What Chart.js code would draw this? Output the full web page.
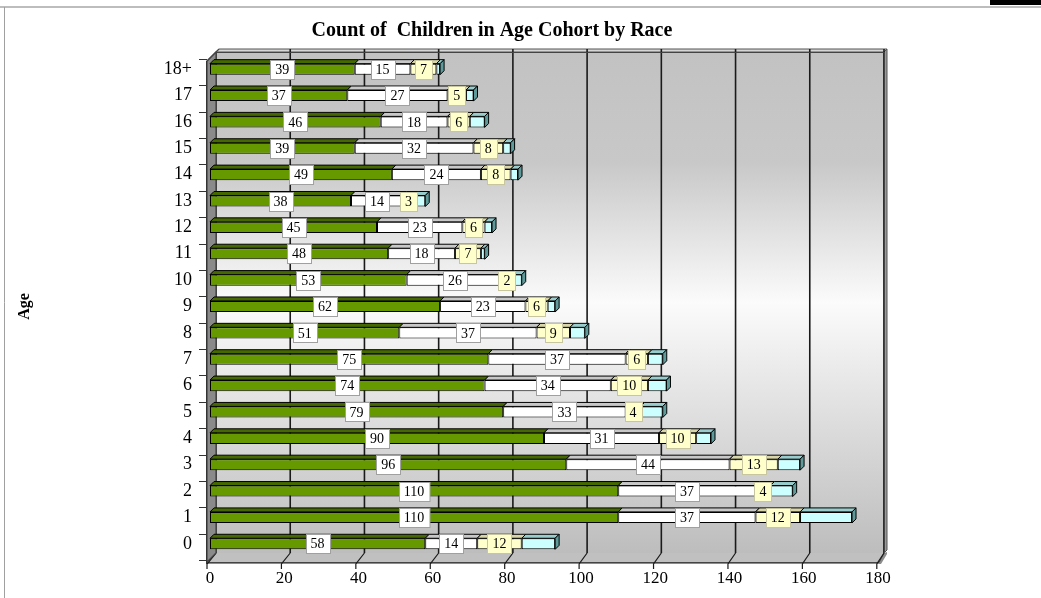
<!DOCTYPE html>
<html>
<head>
<meta charset="utf-8">
<script src="https://cdn.jsdelivr.net/npm/chart.js@4.4.1/dist/chart.umd.min.js"></script>
<style>
html,body{margin:0;padding:0;background:#fff;overflow:hidden}
#c{display:block}
</style>
</head>
<body>
<canvas id="c" width="1041" height="598"></canvas>
<script>
const ages = ['18+','17','16','15','14','13','12','11','10','9','8','7','6','5','4','3','2','1','0'];
const series1 = [39,37,46,39,49,38,45,48,53,62,51,75,74,79,90,96,110,110,58];
const series2 = [15,27,18,32,24,14,23,18,26,23,37,37,34,33,31,44,37,37,14];
const series3 = [7,5,6,8,8,3,6,7,2,6,9,6,10,4,10,13,4,12,12];
const series4 = [1,2,4,2,2,3,2,1,3,2,4,4,5,6,4,6,6,14,9];
const xTicks = [0,20,40,60,80,100,120,140,160,180];

const FONT = '"Liberation Serif", "DejaVu Serif", serif';
const FRONT = ['#669900', '#ffffff', '#ffffcc', '#ccffff'];
const TOP   = ['#456800', '#c8c8c8', '#d8d6a8', '#99cccc'];
const SIDE  = ['#3a5800', '#a8a8a8', '#b8b68a', '#5f9a9a'];
const LABEL_BG = ['#ffffff', '#ffffff', '#ffffcc', null];
const LABEL_BORDER = ['#a0a0a0', '#a0a0a0', '#c8c6a0', null];
const DX = 4, DY = 4;

const decor = {
  id: 'decor',
  beforeDraw(chart) {
    const ctx = chart.ctx, a = chart.chartArea, xs = chart.scales.x;
    ctx.save();
    ctx.fillStyle = '#fff';
    ctx.fillRect(0, 0, chart.width, chart.height);
    // frame
    ctx.strokeStyle = '#bdbdbd'; ctx.lineWidth = 2;
    ctx.beginPath(); ctx.moveTo(0, 7); ctx.lineTo(chart.width, 7); ctx.stroke();
    ctx.strokeStyle = '#a0a0a0'; ctx.lineWidth = 1;
    ctx.beginPath(); ctx.moveTo(4.5, 7); ctx.lineTo(4.5, chart.height); ctx.stroke();
    ctx.fillStyle = '#000'; ctx.fillRect(990, 0, 51, 5);

    const bx0 = a.left + 6, by0 = a.top - 4, by1 = a.bottom - 4;
    const bx1 = xs.getPixelForValue(180) + 6;
    const fx0 = a.left - 3, fy0 = a.top + 5, fy1 = a.bottom + 5;
    // back wall
    const g = ctx.createLinearGradient(0, by0, 0, by1);
    g.addColorStop(0, '#c2c2c2');
    g.addColorStop(0.22, '#c8c8c8');
    g.addColorStop(0.5, '#fbfbfb');
    g.addColorStop(0.78, '#d8d8d8');
    g.addColorStop(1, '#bdbdbd');
    ctx.fillStyle = g;
    ctx.fillRect(bx0, by0, bx1 - bx0, by1 - by0);
    // top thickness of wall
    ctx.fillStyle = '#d6d6d6';
    ctx.beginPath();
    ctx.moveTo(bx0, by0); ctx.lineTo(bx0 + 3, by0 - 3); ctx.lineTo(bx1 + 3, by0 - 3); ctx.lineTo(bx1, by0);
    ctx.closePath(); ctx.fill();
    ctx.strokeStyle = '#555'; ctx.lineWidth = 1; ctx.stroke();
    ctx.fillStyle = '#9a9a9a';
    ctx.beginPath();
    ctx.moveTo(bx1, by0); ctx.lineTo(bx1 + 3, by0 - 3); ctx.lineTo(bx1 + 3, by1 - 3); ctx.lineTo(bx1, by1);
    ctx.closePath(); ctx.fill(); ctx.stroke();
    // gridlines on back wall
    ctx.strokeStyle = '#1a1a1a'; ctx.lineWidth = 1.6;
    xTicks.forEach(v => {
      if (v === 0) return;
      const px = xs.getPixelForValue(v) + 6;
      ctx.beginPath(); ctx.moveTo(px, by0 - 3); ctx.lineTo(px, by1); ctx.stroke();
    });
    ctx.strokeStyle = '#444'; ctx.lineWidth = 1;
    ctx.strokeRect(bx0 + 0.5, by0 + 0.5, bx1 - bx0, by1 - by0);
    // floor
    const fx1 = xs.getPixelForValue(180) + 1;
    ctx.fillStyle = '#c0c0c0';
    ctx.beginPath();
    ctx.moveTo(bx0, by1); ctx.lineTo(bx1, by1); ctx.lineTo(fx1, fy1); ctx.lineTo(fx0, fy1);
    ctx.closePath(); ctx.fill();
    ctx.fillStyle = '#8c8c8c';
    ctx.beginPath();
    ctx.moveTo(fx0, fy1); ctx.lineTo(fx1, fy1); ctx.lineTo(bx1, by1); ctx.lineTo(bx1 + 3, by1 - 3 + 2);
    ctx.lineTo(bx1 + 3, by1 + 1); ctx.lineTo(fx1 + 2, fy1 + 2); ctx.lineTo(fx0, fy1 + 2);
    ctx.closePath(); ctx.fill();
    ctx.strokeStyle = '#444';
    ctx.beginPath(); ctx.moveTo(fx0, fy1 + 0.5); ctx.lineTo(fx1, fy1 + 0.5); ctx.lineTo(bx1, by1); ctx.stroke();
    // floor grid diagonals + ticks
    ctx.strokeStyle = '#1a1a1a'; ctx.lineWidth = 1.2;
    xTicks.forEach(v => {
      const p = xs.getPixelForValue(v);
      const back = p + 6, front = p - 3 + v * 0.01;
      ctx.beginPath(); ctx.moveTo(back, by1); ctx.lineTo(front, fy1 + 2); ctx.lineTo(front, fy1 + 7); ctx.stroke();
    });
    // left wall
    ctx.fillStyle = '#8a8a8a';
    ctx.beginPath();
    ctx.moveTo(fx0, fy0); ctx.lineTo(bx0, by0); ctx.lineTo(bx0, by1); ctx.lineTo(fx0, fy1);
    ctx.closePath(); ctx.fill();
    ctx.strokeStyle = '#444'; ctx.stroke();
    ctx.fillStyle = '#b0b0b0';
    ctx.beginPath();
    ctx.moveTo(fx0, fy0); ctx.lineTo(bx0, by0); ctx.lineTo(bx0 + 3, by0 - 3); ctx.lineTo(fx0 + 3, fy0 - 3);
    ctx.closePath(); ctx.fill(); ctx.stroke();
    // y axis line + ticks at category boundaries
    const band = (a.bottom - a.top) / ages.length;
    ctx.strokeStyle = '#333'; ctx.lineWidth = 1;
    ctx.beginPath(); ctx.moveTo(fx0 - 0.5, fy0); ctx.lineTo(fx0 - 0.5, fy1 + 2); ctx.stroke();
    for (let i = 0; i <= ages.length; i++) {
      const yy = Math.round(a.top + i * band + 3) + 0.5;
      ctx.beginPath(); ctx.moveTo(fx0 - 8, yy); ctx.lineTo(fx0, yy); ctx.stroke();
    }
    ctx.restore();
  },
  afterDatasetsDraw(chart) {
    const ctx = chart.ctx;
    ctx.save();
    ctx.lineWidth = 1; ctx.strokeStyle = '#000';
    const n = chart.data.datasets.length;
    for (let i = 0; i < ages.length; i++) {
      for (let d = 0; d < n; d++) {
        const el = chart.getDatasetMeta(d).data[i];
        const p = el.getProps(['x', 'y', 'base', 'height'], true);
        const t = p.y - p.height / 2, b = p.y + p.height / 2;
        const l = Math.min(p.base, p.x), r = Math.max(p.base, p.x);
        if (r - l < 0.1) continue;
        ctx.fillStyle = TOP[d];
        ctx.beginPath();
        ctx.moveTo(l, t); ctx.lineTo(l + DX, t - DY); ctx.lineTo(r + DX, t - DY); ctx.lineTo(r, t);
        ctx.closePath(); ctx.fill(); ctx.stroke();
        if (d === n - 1) {
          ctx.fillStyle = SIDE[d];
          ctx.beginPath();
          ctx.moveTo(r, t); ctx.lineTo(r + DX, t - DY); ctx.lineTo(r + DX, b - DY); ctx.lineTo(r, b);
          ctx.closePath(); ctx.fill(); ctx.stroke();
        }
      }
    }
    // data labels
    ctx.font = '14px ' + FONT;
    ctx.textAlign = 'center'; ctx.textBaseline = 'middle';
    for (let d = 0; d < n; d++) {
      if (!LABEL_BG[d]) continue;
      const vals = chart.data.datasets[d].data;
      chart.getDatasetMeta(d).data.forEach((el, i) => {
        const p = el.getProps(['x', 'y', 'base'], true);
        const cx = (p.x + p.base) / 2, cy = p.y;
        const txt = String(vals[i]);
        const w = ctx.measureText(txt).width + 10, h = 19;
        const x0 = Math.round(cx - w / 2) + 0.5, y0 = Math.round(cy - h / 2) + 0.5;
        ctx.fillStyle = LABEL_BG[d];
        ctx.fillRect(x0, y0, w, h);
        ctx.strokeStyle = LABEL_BORDER[d];
        ctx.strokeRect(x0, y0, w, h);
        ctx.fillStyle = '#000';
        ctx.fillText(txt, cx, cy + 1);
      });
    }
    ctx.restore();
  }
};

const mk = (label, data, i) => ({
  label, data,
  backgroundColor: FRONT[i],
  borderColor: '#000',
  borderWidth: 1,
  borderSkipped: false,
  barPercentage: 0.42,
  categoryPercentage: 1
});

new Chart(document.getElementById('c'), {
  type: 'bar',
  data: {
    labels: ages,
    datasets: [
      mk('Series1', series1, 0),
      mk('Series2', series2, 1),
      mk('Series3', series3, 2),
      mk('Series4', series4, 3)
    ]
  },
  options: {
    indexAxis: 'y',
    responsive: false,
    animation: false,
    devicePixelRatio: 1,
    layout: { padding: { left: 14, right: 71, top: 0, bottom: 0 } },
    plugins: {
      legend: { display: false },
      tooltip: { enabled: false },
      title: {
        display: true,
        text: 'Count of  Children in Age Cohort by Race',
        color: '#000',
        font: { family: FONT, size: 20, weight: 'bold' },
        padding: { top: 19, bottom: 13 }
      }
    },
    scales: {
      x: {
        stacked: true,
        min: 0, max: 180,
        afterBuildTicks: s => { s.ticks = xTicks.map(v => ({ value: v })); },
        afterFit: s => { s.height = 41; },
        grid: { display: false, drawTicks: false },
        border: { display: false },
        ticks: { color: '#000', font: { family: FONT, size: 17 }, padding: 11, maxRotation: 0 }
      },
      y: {
        stacked: true,
        afterFit: s => { s.width = 196; },
        grid: { display: false, drawTicks: false },
        border: { display: false },
        ticks: { color: '#000', font: { family: FONT, size: 18 }, padding: 18 },
        title: { display: true, text: 'Age', color: '#000', font: { family: FONT, size: 16, weight: 'bold' }, padding: { top: 1, bottom: 0 } }
      },
      yRight: {
        type: 'category',
        position: 'right',
        afterFit: s => { s.width = 92; },
        grid: { display: false, drawTicks: false },
        border: { display: false },
        ticks: { display: false }
      }
    }
  },
  plugins: [decor]
});
</script>
</body>
</html>
